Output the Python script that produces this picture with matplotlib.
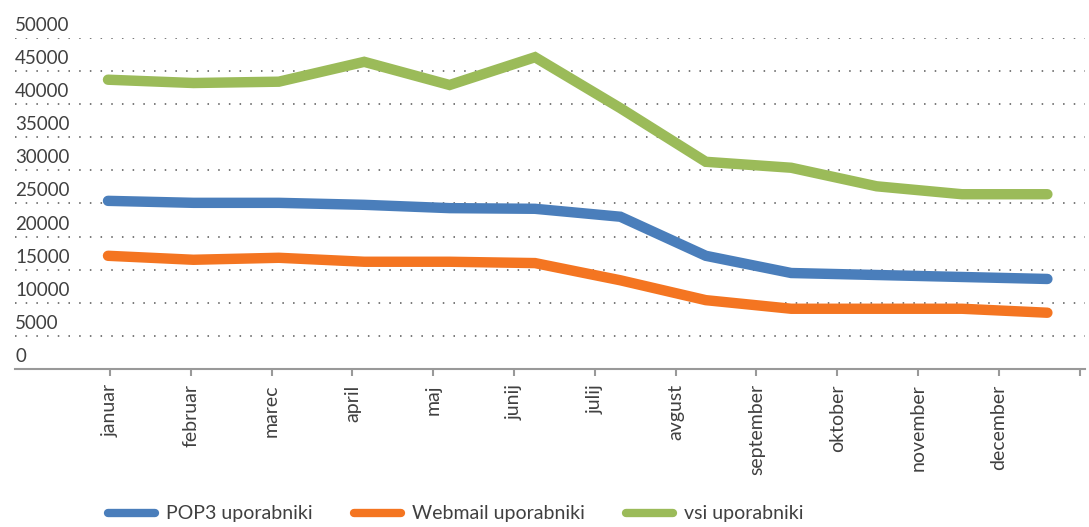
import matplotlib.pyplot as plt
import matplotlib.transforms as mtransforms

MONTHS = ["januar", "februar", "marec", "april", "maj", "junij",
          "julij", "avgust", "september", "oktober", "november", "december"]

POP3 = [25400, 25100, 25100, 24800, 24300, 24200, 23000, 17100, 14500, 14200, 13900, 13600]
WEBMAIL = [17100, 16500, 16800, 16200, 16200, 16000, 13400, 10400, 9100, 9100, 9100, 8500]
VSI = [43700, 43200, 43400, 46400, 42900, 47100, 39400, 31300, 30400, 27600, 26400, 26400]

Y_TICKS = [0, 5000, 10000, 15000, 20000, 25000, 30000, 35000, 40000, 45000, 50000]

SERIES = [
    ("POP3 uporabniki", POP3, "#4a7ebb"),
    ("Webmail uporabniki", WEBMAIL, "#f47521"),
    ("vsi uporabniki", VSI, "#9bbb59"),
]

TEXT_COLOR = "#404040"


def main():
    plt.rcParams["font.family"] = ["Lato", "DejaVu Sans"]

    fig = plt.figure(figsize=(10.89, 5.27), dpi=100)
    ax = fig.add_axes([15 / 1089, 1 - 369 / 527, 1070 / 1089, (369 - 38) / 527])

    x = list(range(len(MONTHS)))
    for name, values, color in SERIES:
        ax.plot(x, values, color=color, lw=7.5, solid_capstyle="round",
                solid_joinstyle="miter", label=name)

    # category axis of the original is slightly narrower than the line span
    step = 80.8 / 85.4
    offset = 2 / 85.4
    ticks = [offset + k * step for k in range(len(MONTHS) + 1)]
    ax.set_xticks(ticks)
    ax.set_xticklabels(MONTHS + [""], rotation=90, fontsize=14, color=TEXT_COLOR,
                       va="top", ha="center")
    ax.tick_params(axis="x", length=5, width=1.5, color="#999999", pad=6)
    ax.set_xlim((15 - 108) / 85.4, (1085 - 108) / 85.4)

    ax.set_ylim(0, 50000)
    ax.set_yticks(Y_TICKS)
    ax.set_yticklabels([])
    ax.tick_params(axis="y", length=0)
    for v in Y_TICKS[1:]:
        ax.axhline(v, color="#555555", lw=1.1, ls=(0, (1, 6)), zorder=0)

    trans = mtransforms.blended_transform_factory(ax.transAxes, ax.transData)
    shift = mtransforms.ScaledTranslation(0, 4 / 100, fig.dpi_scale_trans)
    for v in Y_TICKS:
        ax.text(0.0, v, str(v), transform=trans + shift, ha="left", va="bottom",
                fontsize=13.5, color=TEXT_COLOR)

    for side in ["top", "right", "left"]:
        ax.spines[side].set_visible(False)
    ax.spines["bottom"].set_color("#999999")
    ax.spines["bottom"].set_linewidth(1.5)

    leg = fig.legend(loc="center", bbox_to_anchor=(456 / 1089, 1 - 514 / 527), ncol=3,
                     frameon=False, fontsize=14, handlelength=2.4, handletextpad=0.6,
                     columnspacing=2.1)
    for text in leg.get_texts():
        text.set_color(TEXT_COLOR)
    for line in leg.get_lines():
        line.set_linewidth(6)

    fig.savefig("out.png", dpi=100)
    plt.close(fig)


if __name__ == "__main__":
    main()
